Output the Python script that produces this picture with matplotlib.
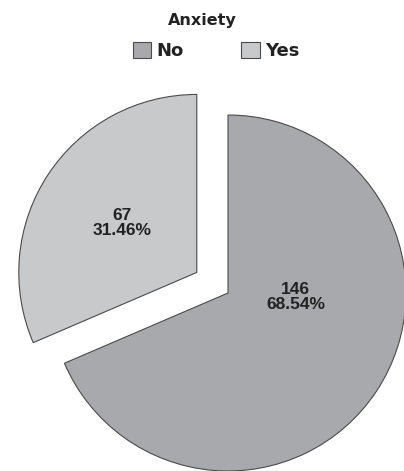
import matplotlib
matplotlib.use("Agg")
import matplotlib.pyplot as plt
import numpy as np

labels = ["No", "Yes"]
counts = [146, 67]
colors = ["#a8a9ac", "#c8c9cb"]
explode = [0.0, 0.21]

W, H = 404, 471
cx, cy, r = 228, 293, 178  # pie centre / radius in pixels (from top-left)

fig = plt.figure(figsize=(W / 100, H / 100), dpi=100)
ax = fig.add_axes([0, 0, 1, 1])

total = sum(counts)


def fmt(pct):
    n = int(round(pct * total / 100))
    return f"{n}\n{pct:.2f}%"


wedges, texts, autotexts = ax.pie(
    counts,
    colors=colors,
    explode=explode,
    startangle=90,
    counterclock=False,
    autopct=fmt,
    pctdistance=0.5,
    wedgeprops=dict(edgecolor="#4a4a4a", linewidth=0.8),
    textprops=dict(family="Liberation Sans", weight="bold", fontsize=12.5,
                   color="#222222", linespacing=1.0),
)
# Excel-like label placement
autotexts[0].set_position((0.38, -0.02))

ax.set_aspect("auto")
ax.set_xlim(-cx / r, (W - cx) / r)
ax.set_ylim(-(H - cy) / r, cy / r)
ax.axis("off")

fig.text(0.5, 1 - 20 / H, "Anxiety", ha="center", va="center",
         fontsize=11.5, weight="bold", color="#222222")
leg = fig.legend(wedges, labels, loc="center", bbox_to_anchor=(0.535, 1 - 51 / H),
                 ncol=2, frameon=False, handlelength=1.0, handleheight=1.0,
                 handletextpad=0.3, columnspacing=3.2,
                 prop=dict(weight="bold", size=13))
for t in leg.get_texts():
    t.set_color("#222222")

fig.savefig("out.png", dpi=100)
